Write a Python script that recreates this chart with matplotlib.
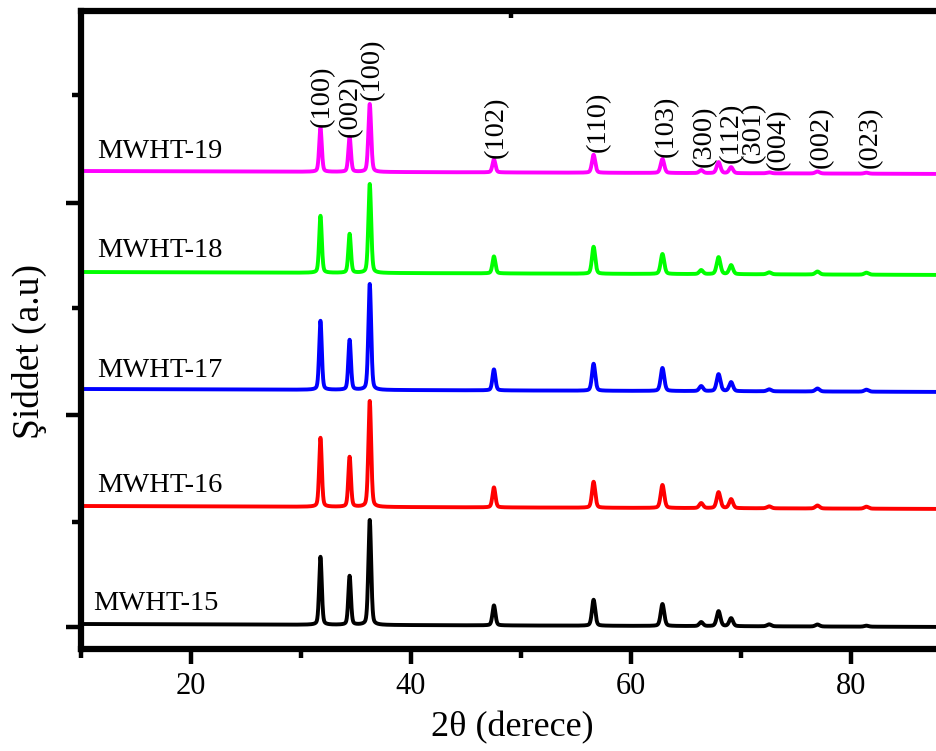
import numpy as np
import matplotlib
matplotlib.use("Agg")
import matplotlib.pyplot as plt

plt.rcParams['font.family'] = ['Liberation Serif', 'DejaVu Serif']

# ---------------- data ----------------
peak_pos = [31.77, 34.42, 36.25, 47.54, 56.60, 62.86, 66.38, 67.96, 69.10, 72.56, 76.95, 81.40]
peak_fwhm = [0.28, 0.28, 0.30, 0.32, 0.35, 0.38, 0.40, 0.40, 0.40, 0.45, 0.45, 0.45]

samples = ["MWHT-15", "MWHT-16", "MWHT-17", "MWHT-18", "MWHT-19"]
colors = ["#000000", "#ff0000", "#0000ff", "#00ff00", "#ff00ff"]
offsets = [22, 140, 257, 374, 475]
bg_low_high = [3, 0]  # background at 10 deg and at 90 deg

h15 = [68, 49, 105, 20, 26, 22, 4, 15, 8, 2, 2, 1]
h16 = [69, 50, 106, 20, 26, 23, 5, 16, 9, 2, 3, 2]
h17 = [69, 50, 106, 21, 27, 23, 5, 17, 9, 2, 3, 2]
h18 = [57, 39, 89, 17, 27, 20, 4, 17, 9, 2, 3, 2]
h19 = [44, 35, 68, 13, 18, 14, 3, 11, 6, 1, 2, 1]
heights = [h15, h16, h17, h18, h19]

label_x = [11.1, 11.45, 11.45, 11.45, 11.45]
label_y = [39, 157, 272, 392, 491]

hkl_text = ["(100)", "(002)", "(100)", "(102)", "(110)", "(103)", "(300)", "(112)",
            "(301)", "(004)", "(002)", "(023)"]
hkl_x = [31.9, 34.45, 36.5, 47.8, 57.0, 63.2, 66.7, 69.1, 71.1, 73.4, 77.3, 81.8]
hkl_y = [522, 512, 549, 491, 497, 492, 482, 486, 486, 479, 481, 481]

x_major = [20, 40, 60, 80]
x_minor = [10, 30, 50, 70, 90]
y_major = [22, 234, 446]
y_minor = [127, 341, 554]
x_lim = (10, 90)
y_lim = (0, 638)

# ---------------- plot ----------------
def pattern(x, pos, h, w, eta=0.3):
    y = np.zeros_like(x)
    for p, a, f in zip(pos, h, w):
        g = np.exp(-4 * np.log(2) * ((x - p) / f) ** 2)
        l = 1.0 / (1.0 + 4 * ((x - p) / f) ** 2)
        y += a * (eta * l + (1 - eta) * g)
    return y

fig = plt.figure(figsize=(9.36, 7.51), dpi=100)
ax = fig.add_axes([81 / 936, (751 - 649) / 751, 880 / 936, 638 / 751])

x = np.linspace(x_lim[0], x_lim[1], 6001)
bg = np.interp(x, list(x_lim), bg_low_high)
for name, c, off, h, lx, ly in zip(samples, colors, offsets, heights, label_x, label_y):
    y = off + bg + pattern(x, peak_pos, h, peak_fwhm)
    ax.plot(x, y, color=c, lw=2.8, solid_joinstyle='round')
    ax.text(lx, ly, name, fontsize=20.5, ha='left', va='baseline')

for t, hx, hy in zip(hkl_text, hkl_x, hkl_y):
    ax.text(hx, hy, t, fontsize=20.5, rotation=90, ha='center', va='bottom')

ax.set_xlim(*x_lim)
ax.set_ylim(*y_lim)
ax.set_xticks(x_major)
ax.set_xticks(x_minor, minor=True)
ax.set_yticks(y_major)
ax.set_yticks(y_minor, minor=True)
ax.set_yticklabels([])
ax.tick_params(axis='both', which='major', length=10.5, width=3.2, direction='out',
               labelsize=22, pad=6)
ax.tick_params(axis='both', which='minor', length=6.5, width=3.2, direction='out')

for s in ax.spines.values():
    s.set_linewidth(4.5)

ax.set_xlabel("2θ (derece)", fontsize=26)
ax.set_ylabel("Şiddet (a.u)", fontsize=27)
ax.xaxis.set_label_coords(0.49, -0.098)
ax.yaxis.set_label_coords(-0.039, 0.467)

sec = ax.secondary_xaxis('top')
sec.set_xticks([49.1])
sec.set_xticklabels([])
sec.tick_params(direction='in', length=5, width=3.2)
sec.spines['top'].set_visible(False)

fig.savefig("out.png", dpi=100)
